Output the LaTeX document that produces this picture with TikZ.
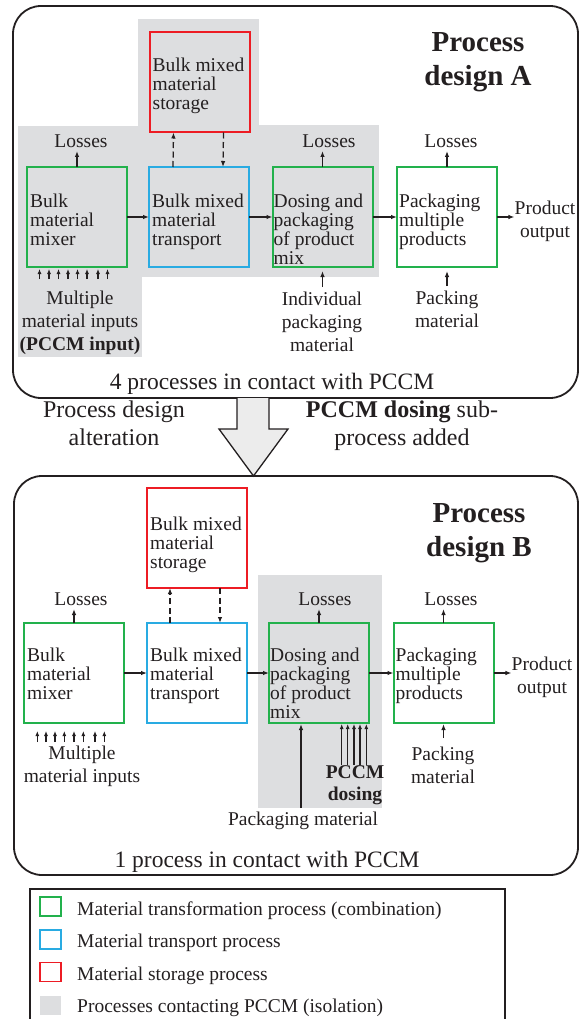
\documentclass[tikz,border=0pt]{standalone}
\usepackage{fontspec}
\setmainfont{Liberation Serif}
\usetikzlibrary{arrows.meta}
\definecolor{cgreen}{RGB}{34,177,76}
\definecolor{cblue}{RGB}{41,171,226}
\definecolor{cred}{RGB}{237,28,36}
\definecolor{cgray}{RGB}{221,222,224}
\definecolor{cink}{RGB}{35,31,32}
\definecolor{carrowfill}{RGB}{236,236,236}
\begin{document}
\begin{tikzpicture}[x=1pt,y=-1pt,
  proc/.style={draw, line width=2pt, minimum width=100pt, minimum height=100pt, inner sep=0pt, outer sep=0pt},
  tf/.style={proc, draw=cgreen},
  tp/.style={proc, draw=cblue},
  st/.style={proc, draw=cred},
  btxt/.style={anchor=base west, align=left, inner sep=0pt, font=\fontsize{19.5}{19}\selectfont, text=cink},
  lbl/.style={align=center, inner sep=0pt, font=\fontsize{19.5}{23}\selectfont, text=cink},
  big/.style={align=center, inner sep=0pt, font=\fontsize{24}{28.5}\selectfont, text=cink},
  ttl/.style={align=center, inner sep=0pt, font=\fontsize{29}{34}\selectfont\bfseries, text=cink},
  arr/.style={draw=cink, line width=1.1pt, -{Latex[length=6pt,width=4.5pt]}},
  sarr/.style={draw=cink, line width=1.1pt, -{Latex[length=5pt,width=4pt]}},
  darr/.style={arr, dash pattern=on 6pt off 3.5pt, line width=1.3pt},
  frame/.style={draw=cink, line width=1.8pt, rounded corners=28pt, inner sep=0pt},
  legsq/.style={minimum width=21pt, minimum height=19pt, inner sep=0pt, line width=1.5pt}
]
\useasboundingbox (0,0) rectangle (581,1019);
\clip (0,0) rectangle (581,1019);

% ---------- gray isolation regions ----------
\fill[cgray] (18,126) rectangle (142,357);
\fill[cgray] (138,19) rectangle (259,277);
\fill[cgray] (138,125) rectangle (379,277);
\fill[cgray] (258,575) rectangle (382,808);

% ---------- frames ----------
\node[frame, minimum width=565pt, minimum height=392pt] (frameA) at (295.5,202) {};
\node[frame, minimum width=564pt, minimum height=399pt] (frameB) at (296,675.5) {};

% big hollow arrow between the frames
\draw[cink, line width=1.3pt, fill=carrowfill, line join=miter]
  (237,398) -- (237,429) -- (219,429) -- (253.5,476) -- (288,429) -- (269,429) -- (269,398);

% (multi-line nodes: base anchor = baseline of the last line)
\node[big, anchor=base] (altlbl) at (114,445.5) {Process design\\alteration};
\node[big, anchor=base] (addlbl) at (402,445.5) {\textbf{PCCM dosing} sub-\\process added};

% ================= PROCESS DESIGN A =================
\node[ttl, anchor=base] (titA) at (478,86) {Process\\design A};

\node[tf] (mixA) at (77,217) {};
\node[tp] (trA) at (199,217) {};
\node[st] (stA) at (199.5,82.5) {};
\node[tf] (doA) at (322.5,217) {};
\node[tf] (paA) at (447,217) {};

\node[btxt] at ([xshift=3pt,yshift=-78pt]mixA.north west) {Bulk\\material\\mixer};
\node[btxt] at ([xshift=3pt,yshift=-78pt]trA.north west) {Bulk mixed\\material\\transport};
\node[btxt] at ([xshift=3pt,yshift=-77pt]stA.north west) {Bulk mixed\\material\\storage};
\node[btxt] at ([xshift=1pt,yshift=-97pt]doA.north west) {Dosing and\\packaging\\of product\\mix};
\node[btxt] at ([xshift=2pt,yshift=-78pt]paA.north west) {Packaging\\multiple\\products};

\draw[arr] (mixA) -- (trA);
\draw[arr] (trA) -- (doA);
\draw[arr] (doA) -- (paA);
\draw[darr] ([xshift=-26pt]trA.north) -- ([xshift=-26pt]stA.south);
\draw[darr] ([xshift=24pt]stA.south) -- ([xshift=24pt]trA.north);

\node[lbl, anchor=base] (lossA1) at (81,148) {Losses};
\node[lbl, anchor=base] (lossA2) at (329,148) {Losses};
\node[lbl, anchor=base] (lossA3) at (451,148) {Losses};
\draw[arr] (mixA.north) -- ++(0,-16);
\draw[arr] (doA.north) -- ++(0,-16);
\draw[arr] (paA.north) -- ++(0,-16);

\foreach \dx in {12.5,22,31.5,41,50.5,60,71,80.5}
  \draw[sarr] ([xshift=\dx pt,yshift=-12pt]mixA.south west) -- ++(0,-10);
\node[lbl, anchor=base] (inA) at (80,350) {Multiple\\material inputs\\\textbf{(PCCM input)}};

\draw[arr] ([yshift=-20pt]doA.south) -- ++(0,-16);
\node[lbl, anchor=base] (indA) at (322,351) {Individual\\packaging\\material};

\draw[arr] ([yshift=-19pt]paA.south) -- ++(0,-15);
\node[lbl, anchor=base] (pmA) at (447,327) {Packing\\material};

\node[lbl, anchor=base] (poA) at (545,237) {Product\\output};
\draw[arr] (paA.east) -- (poA.west |- paA.east);

\node[big, anchor=base, font=\fontsize{23.5}{28}\selectfont] (cntA) at (272,389) {4 processes in contact with PCCM};

% ================= PROCESS DESIGN B =================
\node[ttl, anchor=base] (titB) at (479,556) {Process\\design B};

\node[tf] (mixB) at (74,673) {};
\node[tp] (trB) at (197,673) {};
\node[st] (stB) at (197,538) {};
\node[tf] (doB) at (319,673) {};
\node[tf] (paB) at (443.5,673) {};

\node[btxt] at ([xshift=3pt,yshift=-76pt]mixB.north west) {Bulk\\material\\mixer};
\node[btxt] at ([xshift=3pt,yshift=-76pt]trB.north west) {Bulk mixed\\material\\transport};
\node[btxt] at ([xshift=3pt,yshift=-80pt]stB.north west) {Bulk mixed\\material\\storage};
\node[btxt] at ([xshift=1pt,yshift=-95pt]doB.north west) {Dosing and\\packaging\\of product\\mix};
\node[btxt] at ([xshift=2pt,yshift=-76pt]paB.north west) {Packaging\\multiple\\products};

\draw[arr] (mixB) -- (trB);
\draw[arr] (trB) -- (doB);
\draw[arr] (doB) -- (paB);
\draw[darr] ([xshift=-27pt]trB.north) -- ([xshift=-27pt]stB.south);
\draw[darr] ([xshift=23pt]stB.south) -- ([xshift=23pt]trB.north);

\node[lbl, anchor=base] (lossB1) at (81,605) {Losses};
\node[lbl, anchor=base] (lossB2) at (325,605) {Losses};
\node[lbl, anchor=base] (lossB3) at (451,605) {Losses};
\draw[arr] (mixB.north) -- ++(0,-14);
\draw[arr] (doB.north) -- ++(0,-14);
\draw[arr] (paB.north) -- ++(0,-14);

\foreach \dx in {13.3,22,31,40.3,50,59.3,71,80.3}
  \draw[sarr] ([xshift=\dx pt,yshift=-19pt]mixB.south west) -- ++(0,-11);
\node[lbl, anchor=base] (inB) at (82,782) {Multiple\\material inputs};

\draw[arr] ([xshift=-18pt,yshift=-85pt]doB.south) -- ([xshift=-18pt,yshift=-1pt]doB.south);
\node[lbl, anchor=base] (pkB) at (303,825) {Packaging material};

\foreach \dx in {22.7,28.7,35,41,47.3}
  \draw[sarr] ([xshift=\dx pt,yshift=-42pt]doB.south) -- ([xshift=\dx pt,yshift=-1pt]doB.south);
\node[lbl, anchor=base, font=\fontsize{19.5}{22}\selectfont\bfseries] (dosB) at (355,800) {PCCM\\dosing};

\draw[arr] ([yshift=-15pt]paB.south) -- ([yshift=-1pt]paB.south);
\node[lbl, anchor=base] (pmB) at (443,783) {Packing\\material};

\node[lbl, anchor=base] (poB) at (542,693) {Product\\output};
\draw[arr] (paB.east) -- (poB.west |- paB.east);

\node[big, anchor=base, font=\fontsize{23.5}{28}\selectfont] (cntB) at (267,867) {1 process in contact with PCCM};

% ================= LEGEND =================
\draw[cink, line width=1.5pt] (30,889) rectangle (505,1040);
\node[legsq, draw=cgreen] (lg1) at (50.5,906.5) {};
\node[legsq, draw=cblue] (lg2) at (50.5,939.5) {};
\node[legsq, draw=cred] (lg3) at (50.5,972) {};
\node[legsq, fill=cgray] (lg4) at (50.5,1005.5) {};
\node[lbl, anchor=base west] (lt1) at (77,915) {Material transformation process (combination)};
\node[lbl, anchor=base west] (lt2) at (77,947) {Material transport process};
\node[lbl, anchor=base west] (lt3) at (77,980) {Material storage process};
\node[lbl, anchor=base west] (lt4) at (77,1012) {Processes contacting PCCM (isolation)};
\end{tikzpicture}
\end{document}
